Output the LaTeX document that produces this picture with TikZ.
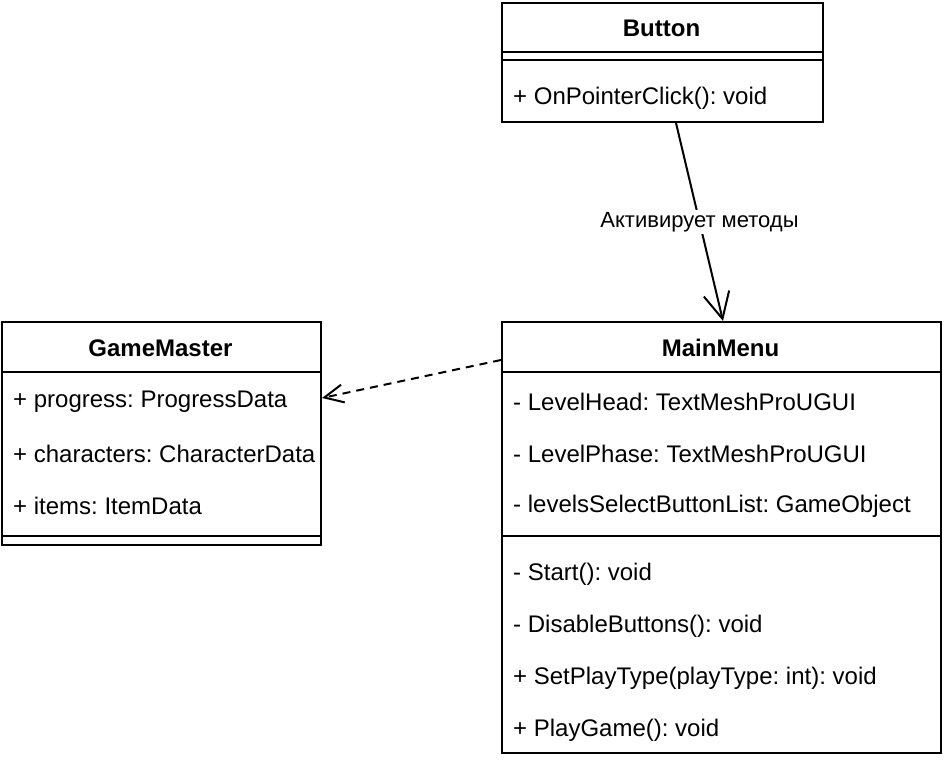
\documentclass[tikz,border=0pt]{standalone}
\usepackage{fontspec}
\setmainfont{Liberation Sans}
\frenchspacing
\usetikzlibrary{arrows.meta, calc}

\tikzset{
  classbox/.style={draw, line width=2pt, anchor=north west, inner sep=0pt},
  classname/.style={font=\fontsize{24}{28}\selectfont\bfseries, inner sep=0pt},
  member/.style={anchor=west, font=\fontsize{24}{28}\selectfont, inner sep=0pt, yshift=-2pt},
  divider/.style={line width=2pt},
  link/.style={line width=2pt},
  linklabel/.style={fill=white, font=\fontsize{22}{26}\selectfont, inner sep=2pt},
}

\begin{document}
\begin{tikzpicture}[x=1pt, y=-1pt]
\useasboundingbox (0,0) rectangle (944,760);

% Button
\node[classbox, minimum width=321pt, minimum height=119pt] (button) at (501,2) {};
\node[classname] (button-name) at (661.5,28) {Button};
\draw[divider] (501,52) -- (822,52);
\draw[divider] (501,60) -- (822,60);
\node[member] (button-click) at (513,96) {+ OnPointerClick(): void};

% GameMaster
\node[classbox, minimum width=319pt, minimum height=223pt] (gamemaster) at (1,321) {};
\node[classname] (gamemaster-name) at (160.5,348) {GameMaster};
\draw[divider] (1,372) -- (320,372);
\node[member] (gm-progress) at (13,400) {+ progress: ProgressData};
\node[member] (gm-characters) at (13,452) {+ characters: CharacterData};
\node[member] (gm-items) at (13,504) {+ items: ItemData};
\draw[divider] (1,536) -- (320,536);

% MainMenu
\node[classbox, minimum width=439pt, minimum height=431pt] (mainmenu) at (501,321) {};
\node[classname] (mainmenu-name) at (720.5,348) {MainMenu};
\draw[divider] (501,372) -- (940,372);
\node[member] (mm-head) at (513,400) {- LevelHead: TextMeshProUGUI};
\node[member] (mm-phase) at (513,452) {- LevelPhase: TextMeshProUGUI};
\node[member] (mm-list) at (513,504) {- levelsSelectButtonList: GameObject};
\draw[divider] (501,536) -- (940,536);
\node[member] (mm-start) at (513,572) {- Start(): void};
\node[member] (mm-disable) at (513,624) {- DisableButtons(): void};
\node[member] (mm-settype) at (513,676) {+ SetPlayType(playType: int): void};
\node[member] (mm-play) at (513,728) {+ PlayGame(): void};

% links
\draw[link, -{Straight Barb[length=26pt, width=26pt]}]
  ($(button.south)+(13.5,0)$) -- node[linklabel] (calls) {Активирует методы}
  ($(mainmenu.north)+(1.5,0)$);
\draw[link, dash pattern=on 8pt off 6pt, -{Straight Barb[length=19pt, width=18pt]}]
  ([yshift=-39pt]mainmenu.north west) -- ([yshift=-77pt]gamemaster.north east);
\end{tikzpicture}
\end{document}
